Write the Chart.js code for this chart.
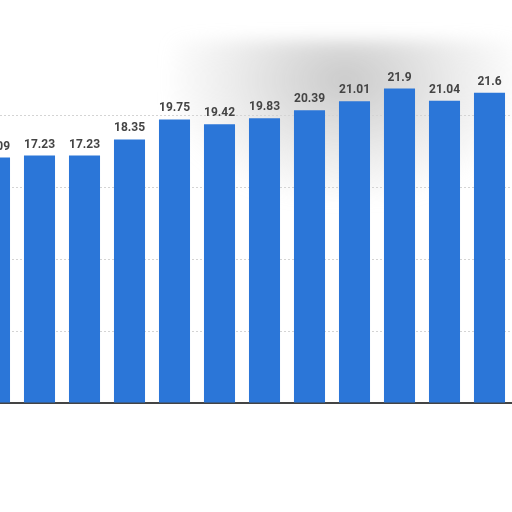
<!DOCTYPE html>
<html>
<head>
<meta charset="utf-8">
<script src="https://cdn.jsdelivr.net/npm/chart.js@4"></script>
<style>
  html, body { margin: 0; padding: 0; background: #fff; overflow: hidden; }
  body { width: 512px; height: 512px; position: relative; }
  /* smudged grey patch behind the top of the chart */
  #haze {
    position: absolute; left: 170px; top: 40px; width: 350px; height: 160px;
    background: radial-gradient(ellipse at 50% 25%, rgba(150,150,150,0.5), rgba(195,195,195,0.32) 45%, rgba(255,255,255,0) 75%);
    filter: blur(8px);
  }
  #wrap { position: absolute; left: -28px; top: 0; width: 540px; height: 512px; }
</style>
</head>
<body>
<div id="haze"></div>
<div id="wrap"><canvas id="chart"></canvas></div>
<script>
// values, left to right (first bar is cut by the frame)
var categories = ['1', '2', '3', '4', '5', '6', '7', '8', '9', '10', '11', '12'];
var values = [17.09, 17.23, 17.23, 18.35, 19.75, 19.42, 19.83, 20.39, 21.01, 21.9, 21.04, 21.6];
var yTicks = [0, 5, 10, 15, 20, 25];

// write the value above each bar
var barLabels = {
    id: 'barLabels',
    afterDatasetsDraw: function (chart) {
        var ctx = chart.ctx;
        var meta = chart.getDatasetMeta(0);
        ctx.save();
        ctx.font = 'bold 12px Roboto, sans-serif';
        ctx.fillStyle = '#444';
        ctx.textAlign = 'center';
        ctx.textBaseline = 'bottom';
        meta.data.forEach(function (bar, i) {
            ctx.fillText(String(values[i]), bar.x, bar.y - 5);
        });
        ctx.restore();
    }
};

new Chart(document.getElementById('chart'), {
    type: 'bar',
    data: {
        labels: categories,
        datasets: [{
            data: values,
            backgroundColor: '#2b76d8',
            barPercentage: 0.69,
            categoryPercentage: 1.0
        }]
    },
    options: {
        responsive: true,
        maintainAspectRatio: false,
        animation: false,
        layout: { padding: { top: 44, bottom: 101, left: 0, right: 0 } },
        plugins: { legend: { display: false }, tooltip: { enabled: false } },
        scales: {
            x: {
                grid: { display: false },
                ticks: { display: false },
                border: { display: true, color: '#444', width: 2 }
            },
            y: {
                min: yTicks[0],
                max: yTicks[yTicks.length - 1],
                afterBuildTicks: function (axis) {
                    axis.ticks = yTicks.map(function (v) { return { value: v }; });
                },
                ticks: { display: false },
                grid: {
                    color: function (c) { return c.tick && c.tick.value === 25 ? 'rgba(0,0,0,0)' : '#d4d4d4'; },
                    lineWidth: 1,
                    drawTicks: false
                },
                border: { display: false, dash: [2, 2] }
            }
        }
    },
    plugins: [barLabels]
});
</script>
</body>
</html>
